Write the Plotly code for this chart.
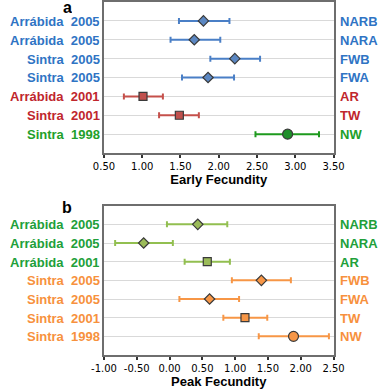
import plotly.graph_objects as go

# ---------------- data ----------------
a_left = ["Arrábida  2005", "Arrábida  2005", "Sintra  2005", "Sintra  2005",
          "Arrábida  2001", "Sintra  2001", "Sintra  1998"]
a_codes = ["NARB", "NARA", "FWB", "FWA", "AR", "TW", "NW"]
a_mean = [1.80, 1.68, 2.21, 1.86, 1.01, 1.485, 2.90]
a_low = [1.48, 1.37, 1.89, 1.52, 0.76, 1.22, 2.48]
a_high = [2.14, 2.02, 2.54, 2.20, 1.27, 1.74, 3.31]
a_group = ["blue", "blue", "blue", "blue", "red", "red", "green"]
a_symbol = ["diamond", "diamond", "diamond", "diamond", "square", "square", "circle"]

b_left = ["Arrábida  2005", "Arrábida  2005", "Arrábida  2001", "Sintra  2005",
          "Sintra  2005", "Sintra  2001", "Sintra  1998"]
b_codes = ["NARB", "NARA", "AR", "FWB", "FWA", "TW", "NW"]
b_mean = [0.43, -0.395, 0.575, 1.40, 0.61, 1.15, 1.89]
b_low = [-0.04, -0.83, 0.23, 0.95, 0.15, 0.82, 1.36]
b_high = [0.88, 0.05, 0.92, 1.85, 1.06, 1.49, 2.43]
b_group = ["lgreen", "lgreen", "lgreen", "orange", "orange", "orange", "orange"]
b_symbol = ["diamond", "diamond", "square", "diamond", "diamond", "square", "circle"]

a_ticks = [0.5, 1.0, 1.5, 2.0, 2.5, 3.0, 3.5]
b_ticks = [-1.0, -0.5, 0.0, 0.5, 1.0, 1.5, 2.0, 2.5]

# ---------------- styles ----------------
line_col = {"blue": "#4a7fc6", "red": "#c5504b", "green": "#1e9a1e",
            "lgreen": "#92bf50", "orange": "#f79646"}
fill_col = {"blue": "#5b87c2", "red": "#c0504d", "green": "#1f8f2a",
            "lgreen": "#9bbb59", "orange": "#f79646"}
text_col = {"blue": "#2f74c4", "red": "#c0262d", "green": "#22a02a",
            "lgreen": "#21a03a", "orange": "#f7913d"}
msize = {"diamond": 8, "square": 8, "circle": 10}

W, H = 387, 392
fig = go.Figure()

def add_panel(means, lows, highs, groups, symbols, xa, ya):
    for i in range(len(means)):
        g = groups[i]
        fig.add_trace(go.Scatter(
            x=[means[i]], y=[i], mode="markers", xaxis=xa, yaxis=ya,
            marker=dict(symbol=symbols[i], size=msize[symbols[i]], color=fill_col[g],
                        line=dict(color="#3a3a3a", width=1.2)),
            error_x=dict(type="data", symmetric=False,
                         array=[highs[i] - means[i]], arrayminus=[means[i] - lows[i]],
                         color=line_col[g], thickness=2, width=3),
            showlegend=False, hoverinfo="skip"))

add_panel(a_mean, a_low, a_high, a_group, a_symbol, "x", "y")
add_panel(b_mean, b_low, b_high, b_group, b_symbol, "x2", "y2")

xdom = [97 / W, 341.7 / W]
ydom_a = [1 - 153 / H, 1 - 2 / H]
ydom_b = [1 - 355 / H, 1 - 205.7 / H]

axis_line = dict(showline=True, linecolor="#6e6e6e", linewidth=1.5, mirror=True)
tickfont = dict(family="DejaVu Sans", size=10, color="#000000")

fig.update_layout(
    width=W, height=H, margin=dict(l=0, r=0, t=0, b=0),
    paper_bgcolor="white", plot_bgcolor="white",
    font=dict(family="Liberation Sans, Arial", color="#000"),
    xaxis=dict(domain=xdom, range=[0.5, 3.5], tickvals=a_ticks,
               ticktext=[f"{v:.2f}" for v in a_ticks], ticks="outside", ticklen=3,
               tickcolor="#333", tickwidth=1.5, showgrid=False, zeroline=False,
               tickfont=tickfont, anchor="y",
               title=dict(text="<b>Early Fecundity</b>", font=dict(size=13), standoff=2),
               **axis_line),
    yaxis=dict(domain=ydom_a, range=[7, -1], tickvals=list(range(7)), showticklabels=False,
               ticks="", showgrid=True, gridcolor="#d9d9d9", gridwidth=1, zeroline=False,
               anchor="x", **axis_line),
    xaxis2=dict(domain=xdom, range=[-1.0, 2.5], tickvals=b_ticks,
                ticktext=[f"{v:.2f}" for v in b_ticks], ticks="outside", ticklen=3,
                tickcolor="#333", tickwidth=1.5, showgrid=False, zeroline=False,
                tickfont=tickfont, anchor="y2",
                title=dict(text="<b>Peak Fecundity</b>", font=dict(size=13), standoff=2),
                **axis_line),
    yaxis2=dict(domain=ydom_b, range=[7, -1], tickvals=list(range(7)), showticklabels=False,
                ticks="", showgrid=True, gridcolor="#d9d9d9", gridwidth=1, zeroline=False,
                anchor="x2", **axis_line),
)

ann = []
def add_labels(lefts, codes, groups, yref):
    for i in range(len(lefts)):
        c = text_col[groups[i]]
        ann.append(dict(x=93.5 / W, xref="paper", y=i, yref=yref, xanchor="right",
                        yanchor="middle", showarrow=False, height=14, borderpad=0,
                        valign="middle",
                        text="<b>" + lefts[i].replace(" ", "\u00a0") + "</b>",
                        font=dict(size=13, color=c, family="Liberation Sans, Arial")))
        ann.append(dict(x=348 / W, xref="paper", y=i, yref=yref, xanchor="left",
                        yanchor="middle", showarrow=False, height=14, borderpad=0,
                        valign="middle", text="<b>" + codes[i] + "</b>",
                        font=dict(size=13, color=c, family="Liberation Sans, Arial")))

add_labels(a_left, a_codes, a_group, "y")
add_labels(b_left, b_codes, b_group, "y2")
ann.append(dict(x=58 / W, y=1 - 6.5 / H, xref="paper", yref="paper", text="<b>a</b>",
                showarrow=False, xanchor="center", yanchor="middle", height=12,
                valign="middle", borderpad=0,
                font=dict(size=16, color="#000", family="Liberation Sans, Arial")))
ann.append(dict(x=58 / W, y=1 - 207 / H, xref="paper", yref="paper", text="<b>b</b>",
                showarrow=False, xanchor="center", yanchor="middle", height=14,
                valign="middle", borderpad=0,
                font=dict(size=16, color="#000", family="Liberation Sans, Arial")))
fig.update_layout(annotations=ann)

fig.write_html("out.html", config={"displayModeBar": False},
               post_script="document.body.style.margin='0';document.body.style.overflow='hidden';")
